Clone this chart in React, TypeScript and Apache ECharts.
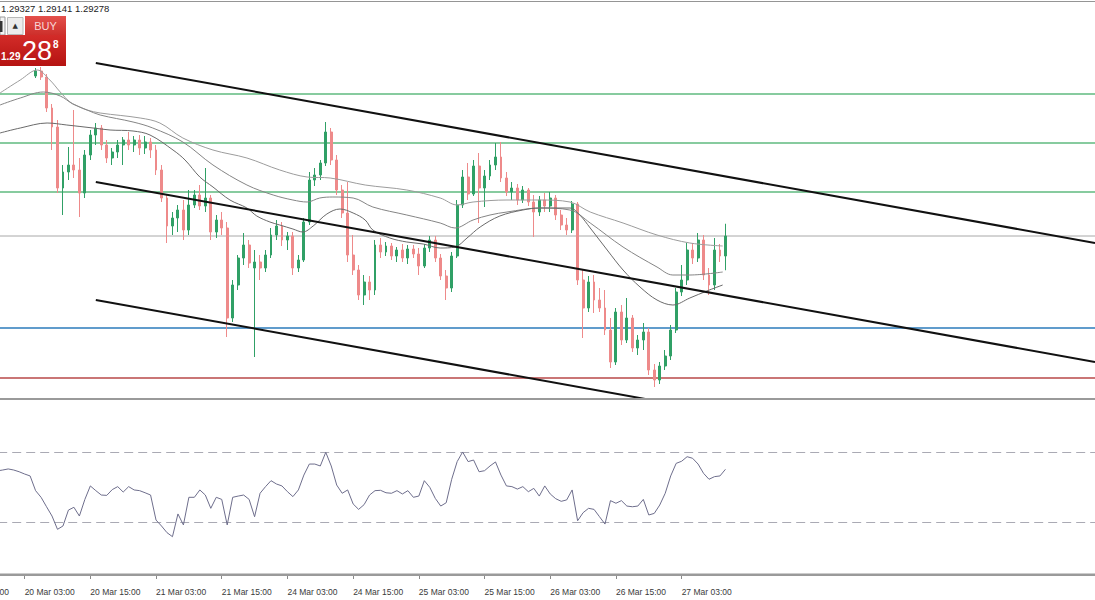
import React, { useEffect, useRef } from "react";
import * as echarts from "echarts";

// ---------- categories (H1 bars, weekend skipped) ----------
const tradingDays = ["19 Mar", "20 Mar", "21 Mar", "24 Mar", "25 Mar", "26 Mar", "27 Mar", "28 Mar", "31 Mar", "1 Apr"];
const firstHour = 15;
const categoryCount = 208;
function buildCategories(): string[] {
  const out: string[] = [];
  tradingDays.forEach((d, di) => {
    for (let h = 0; h < 24; h++) {
      if (di === 0 && h < firstHour) continue;
      out.push(`${d} ${h < 10 ? "0" + h : h}:00`);
    }
  });
  return out.slice(0, categoryCount);
}
const categories = buildCategories();
const candleStartTime = "20 Mar 05:00";
const lastBarTime = "27 Mar 11:00";
const rsiStartTime = "19 Mar 22:00";
const labelHours = ["03:00", "15:00"];

// ---------- OHLC ----------
const opens = [
  1.29918, 1.29938, 1.29914, 1.2979, 1.29714, 1.2947, 1.29534, 1.29562, 1.29542, 1.2945,
  1.29602, 1.29682, 1.2971, 1.29642, 1.2959, 1.29614, 1.29642, 1.29662, 1.29642, 1.29662,
  1.2963, 1.29654, 1.29622, 1.29542, 1.2943, 1.29318, 1.2935, 1.29382, 1.29302, 1.29402,
  1.29442, 1.29398, 1.2943, 1.29294, 1.29342, 1.2931, 1.2895, 1.29082, 1.2919, 1.29242,
  1.2915, 1.29174, 1.2915, 1.29202, 1.29282, 1.29318, 1.29262, 1.29278, 1.2915, 1.29182,
  1.29334, 1.29502, 1.29522, 1.2957, 1.29694, 1.29582, 1.29462, 1.2937, 1.29202, 1.29142,
  1.29042, 1.29094, 1.29062, 1.29242, 1.29214, 1.29238, 1.29198, 1.29222, 1.2919, 1.29226,
  1.29206, 1.29158, 1.2923, 1.29262, 1.2919, 1.29118, 1.2907, 1.29198, 1.29402, 1.29514,
  1.29446, 1.29558, 1.2947, 1.29518, 1.29562, 1.29594, 1.2951, 1.29454, 1.2947, 1.29422,
  1.29462, 1.29414, 1.29374, 1.29422, 1.29398, 1.2943, 1.29362, 1.29322, 1.29302, 1.29406,
  1.29102, 1.2899, 1.29094, 1.29022, 1.2899, 1.28902, 1.28774, 1.28974, 1.28862, 1.2895,
  1.2883, 1.28862, 1.28894, 1.28742, 1.28702, 1.28758, 1.28798, 1.28902, 1.29054, 1.29102,
  1.29222, 1.2919, 1.29262, 1.29122, 1.29082, 1.29222, 1.29198,
];
const highs = [
  1.2995, 1.29954, 1.29926, 1.29806, 1.29742, 1.29562, 1.29634, 1.29782, 1.2959, 1.29622,
  1.29702, 1.2973, 1.29722, 1.29662, 1.2963, 1.29662, 1.29674, 1.29694, 1.29678, 1.29682,
  1.29678, 1.2967, 1.29642, 1.29562, 1.29442, 1.29374, 1.29402, 1.29422, 1.29462, 1.29462,
  1.29482, 1.2955, 1.29442, 1.29362, 1.29374, 1.29334, 1.29102, 1.29202, 1.2929, 1.29262,
  1.29222, 1.29202, 1.29222, 1.2931, 1.29342, 1.29334, 1.29294, 1.29294, 1.29202, 1.2935,
  1.29534, 1.2955, 1.29582, 1.29734, 1.2971, 1.29602, 1.29482, 1.29494, 1.29282, 1.29162,
  1.29122, 1.29118, 1.29262, 1.2927, 1.29254, 1.2925, 1.29234, 1.29246, 1.29242, 1.29242,
  1.2923, 1.29246, 1.29278, 1.29278, 1.29206, 1.29142, 1.29214, 1.29422, 1.29542, 1.2957,
  1.29582, 1.2961, 1.29542, 1.29582, 1.2965, 1.29654, 1.29534, 1.29494, 1.29486, 1.29478,
  1.2947, 1.29442, 1.29438, 1.2945, 1.29454, 1.29442, 1.29382, 1.2935, 1.29418, 1.29414,
  1.29142, 1.29118, 1.29122, 1.2907, 1.29062, 1.2895, 1.2899, 1.29002, 1.2903, 1.28962,
  1.28882, 1.2893, 1.2891, 1.28766, 1.28774, 1.28822, 1.28922, 1.2907, 1.29162, 1.2925,
  1.2925, 1.2929, 1.29282, 1.2915, 1.2927, 1.29246, 1.29327,
];
const lows = [
  1.2991, 1.29902, 1.29774, 1.29622, 1.2945, 1.29362, 1.29502, 1.2951, 1.29354, 1.2943,
  1.29582, 1.29642, 1.29622, 1.2957, 1.29562, 1.2959, 1.29562, 1.29622, 1.29614, 1.29602,
  1.29606, 1.2959, 1.29522, 1.29414, 1.2925, 1.29282, 1.29294, 1.29262, 1.29282, 1.2939,
  1.29382, 1.29374, 1.29262, 1.2927, 1.29282, 1.28874, 1.28934, 1.29062, 1.29162, 1.2915,
  1.28794, 1.29102, 1.29134, 1.2919, 1.29262, 1.29238, 1.29222, 1.29122, 1.29134, 1.29174,
  1.29322, 1.29478, 1.29502, 1.29558, 1.29562, 1.29442, 1.2935, 1.29174, 1.29122, 1.29022,
  1.29002, 1.29022, 1.29042, 1.2919, 1.29198, 1.29182, 1.29174, 1.29174, 1.29166, 1.2919,
  1.29122, 1.2915, 1.29214, 1.29174, 1.29102, 1.29022, 1.29054, 1.2919, 1.2939, 1.29422,
  1.29438, 1.2933, 1.29394, 1.29502, 1.29542, 1.29494, 1.29438, 1.29422, 1.29402, 1.2941,
  1.29398, 1.29274, 1.29358, 1.29374, 1.29374, 1.29342, 1.29302, 1.29282, 1.2929, 1.29082,
  1.2887, 1.28974, 1.2897, 1.28974, 1.28882, 1.2875, 1.28762, 1.28842, 1.2885, 1.28814,
  1.28802, 1.28822, 1.28722, 1.28674, 1.28686, 1.28742, 1.28782, 1.2889, 1.29038, 1.29082,
  1.29166, 1.29174, 1.29102, 1.29042, 1.29062, 1.29174, 1.29141,
];
const closes = [
  1.29938, 1.29914, 1.2979, 1.29714, 1.2947, 1.29534, 1.29562, 1.29542, 1.2945, 1.29602,
  1.29682, 1.2971, 1.29642, 1.2959, 1.29614, 1.29642, 1.29662, 1.29642, 1.29662, 1.2963,
  1.29654, 1.29622, 1.29542, 1.2943, 1.29318, 1.2935, 1.29382, 1.29302, 1.29402, 1.29442,
  1.29398, 1.2943, 1.29294, 1.29342, 1.2931, 1.2895, 1.29082, 1.2919, 1.29242, 1.2917,
  1.29174, 1.2915, 1.29202, 1.29282, 1.29318, 1.29262, 1.29278, 1.2915, 1.29182, 1.29334,
  1.29502, 1.29522, 1.2957, 1.29694, 1.29582, 1.29462, 1.2937, 1.29202, 1.29142, 1.29042,
  1.29094, 1.29062, 1.29242, 1.29214, 1.29238, 1.29198, 1.29222, 1.2919, 1.29226, 1.29206,
  1.29158, 1.2923, 1.29262, 1.2919, 1.29118, 1.2907, 1.29198, 1.29402, 1.29514, 1.29446,
  1.29558, 1.2947, 1.29518, 1.29562, 1.29594, 1.2951, 1.29454, 1.2947, 1.29422, 1.29462,
  1.29414, 1.29374, 1.29422, 1.29398, 1.2943, 1.29362, 1.29322, 1.29302, 1.29406, 1.29102,
  1.2899, 1.29094, 1.29022, 1.2899, 1.28902, 1.28774, 1.28974, 1.28862, 1.2895, 1.2883,
  1.28862, 1.28894, 1.28742, 1.28702, 1.28758, 1.28798, 1.28902, 1.29054, 1.29102, 1.29222,
  1.2919, 1.29262, 1.29122, 1.29082, 1.29222, 1.29198, 1.29278,
];

// ---------- moving averages: [bar index, price] ----------
const maSlow = [
  [7.5, 1.2985], [11.2, 1.29902], [14.3, 1.29942], [16.6, 1.29902], [18.5, 1.29854], [20.3, 1.29814],
  [22.1, 1.29794], [23.4, 1.29782], [25.8, 1.2977], [33.1, 1.2975], [36.7, 1.2973], [40.9, 1.2967],
  [46.4, 1.29622], [52.6, 1.2959], [58.6, 1.29542], [63.6, 1.29514], [67.8, 1.2951], [74.2, 1.29482],
  [81.8, 1.29462], [87.9, 1.2943], [91.0, 1.29402], [93.9, 1.29414], [100.1, 1.29422], [106.1, 1.29422],
  [111.6, 1.29414], [115.3, 1.29374], [121.3, 1.2933], [127.5, 1.29282], [133.5, 1.2925], [139.5, 1.29238],
];
const maMid = [
  [7.5, 1.29802], [11.2, 1.2983], [15.4, 1.29854], [18.5, 1.29838], [20.8, 1.29806], [23.4, 1.29782],
  [25.8, 1.29762], [31.8, 1.29734], [35.4, 1.2971], [40.9, 1.29654], [46.4, 1.29562], [52.6, 1.29482],
  [57.4, 1.29442], [61.0, 1.29422], [63.6, 1.29414], [65.9, 1.2943], [68.3, 1.29434], [72.0, 1.2943],
  [75.6, 1.29394], [81.8, 1.29362], [87.9, 1.2933], [90.6, 1.2931], [93.9, 1.29342], [97.0, 1.29362],
  [100.1, 1.29374], [106.1, 1.2939], [111.6, 1.29382], [115.3, 1.2933], [121.3, 1.29234], [127.5, 1.29154],
  [130.4, 1.29122], [133.5, 1.29122], [139.5, 1.29134],
];
const maFast = [
  [7.5, 1.2969], [11.2, 1.2971], [16.1, 1.2973], [19.7, 1.29722], [24.5, 1.2971], [27.6, 1.29702],
  [31.8, 1.29698], [34.9, 1.29682], [39.1, 1.29622], [41.3, 1.29582], [44.0, 1.29514], [46.4, 1.29474],
  [49.5, 1.29422], [52.6, 1.2939], [54.4, 1.29358], [56.8, 1.29334], [58.6, 1.29322], [61.0, 1.29306],
  [62.8, 1.29294], [64.7, 1.29318], [67.2, 1.29366], [69.6, 1.29386], [72.0, 1.2937], [74.2, 1.29342],
  [75.6, 1.29302], [78.7, 1.2927], [81.8, 1.29254], [84.8, 1.29246], [87.9, 1.2923], [90.6, 1.29234],
  [92.8, 1.2927], [95.2, 1.29314], [98.8, 1.29358], [103.0, 1.29382], [106.1, 1.2939], [111.6, 1.2939],
  [113.4, 1.29362], [115.3, 1.2931], [118.4, 1.29222], [121.3, 1.29142], [124.4, 1.29074], [127.5, 1.29022],
  [130.4, 1.29002], [133.5, 1.2903], [136.6, 1.29058], [139.5, 1.29082],
];

// ---------- channel trend lines ----------
const channelTop = [[25, 1.2997], [207.5, 1.2925]];
const channelMid = [[25, 1.29494], [207.5, 1.28774]];
const channelLow = [[25, 1.29022], [207.5, 1.28302]];

// ---------- horizontal levels ----------
const greenLevels = [1.29846, 1.2965, 1.29454];
const bidLevel = 1.29278;
const blueLevel = 1.2891;
const redLevel = 1.2871;
const priceMin = 1.2863;
const priceMax = 1.30214;

// ---------- RSI ----------
const rsiValues = [
  59.5,
  60.0, 60.6, 60.0, 59.0, 57.7, 56.6, 48.2, 44.4, 39.0, 33.7,
  26.1, 28.0, 37.1, 38.7, 33.7, 43.2, 50.9, 48.2, 45.7, 45.5,
  48.8, 50.5, 47.4, 50.5, 48.6, 48.2, 47.0, 45.7, 31.4, 28.0,
  24.2, 21.9, 34.9, 28.6, 44.4, 44.4, 48.6, 45.7, 38.1, 44.4,
  43.2, 28.6, 44.4, 45.1, 45.7, 43.2, 33.3, 46.7, 50.5, 53.9,
  52.0, 50.9, 47.6, 44.8, 48.6, 57.1, 63.4, 63.4, 62.3, 70.1,
  62.3, 51.4, 46.7, 48.6, 40.6, 37.5, 40.2, 45.7, 48.2, 48.4,
  47.0, 46.7, 48.2, 46.3, 48.2, 44.4, 45.1, 53.9, 50.1, 43.8,
  39.4, 41.3, 54.7, 64.8, 70.3, 64.8, 65.7, 59.0, 59.6, 62.3,
  64.6, 57.1, 50.9, 50.5, 49.1, 50.5, 47.6, 49.5, 45.1, 50.9,
  46.3, 43.6, 42.1, 42.9, 48.6, 31.0, 35.6, 38.1, 37.5, 33.3,
  29.1, 42.5, 41.0, 42.5, 39.4, 39.0, 39.4, 43.2, 34.3, 35.2,
  40.0, 46.7, 56.6, 63.8, 65.0, 67.6, 66.7, 63.4, 58.1, 54.7,
  56.2, 56.6, 60.4,
];
const rsiLevels = [70, 30];

// ---------- header / trade panel texts ----------
const headerQuote = ["1.29327", "1.29141", "1.29278"];
const askPrefix = "1.29";
const askBig = "28";
const askPip = "8";

const W = 1095;
const H = 600;
const BAR = 5.475;

export default function App() {
  const ref = useRef<HTMLDivElement>(null);
  useEffect(() => {
    document.body.style.margin = "0";
    if (!ref.current) return;
    const chart = echarts.init(ref.current, null, { renderer: "svg" });

    const candleStart = categories.indexOf(candleStartTime);
    const lastIndex = categories.indexOf(lastBarTime);
    const rsiStart = categories.indexOf(rsiStartTime);
    const candleRows = opens.map((o, i) => [candleStart + i, o, closes[i], lows[i], highs[i]]);
    const rsiData: any[] = categories.map(() => "-");
    rsiValues.forEach((v, i) => (rsiData[rsiStart + i] = v));
    const xMin = -0.5;
    const xMax = categories.length - 0.5;

    const labelFilter = (index: number, value: string) =>
      index <= lastIndex && labelHours.some((h) => value.endsWith(h));

    const gridWidth = categories.length * BAR;
    const gridLeft = W - gridWidth;
    const bull = "#30a066";
    const bear = "#ee8a8a";
    const font = "Liberation Sans";

    const flatLine = (v: number, color: string, width: number, xAxisIndex: number, yAxisIndex: number, dash?: number[]) => ({
      type: "line",
      xAxisIndex,
      yAxisIndex,
      data: [[xMin, v], [xMax, v]],
      showSymbol: false,
      silent: true,
      z: 1,
      lineStyle: { color, width, type: dash || "solid" },
    });

    const option: any = {
      animation: false,
      backgroundColor: "#ffffff",
      grid: [
        { left: gridLeft, top: 2, width: gridWidth, height: 396, outerBoundsMode: "none", containLabel: false },
        { left: gridLeft, top: 400, width: gridWidth, height: 175, outerBoundsMode: "none", containLabel: false },
      ],
      xAxis: [
        { type: "category", gridIndex: 0, data: categories, boundaryGap: true, show: false },
        { type: "value", gridIndex: 0, min: xMin, max: xMax, show: false },
        {
          type: "category",
          gridIndex: 1,
          data: categories,
          boundaryGap: true,
          position: "bottom",
          offset: 8,
          axisLine: { show: true, lineStyle: { color: "#9a9a9a", width: 1 } },
          axisTick: { show: true, alignWithLabel: true, interval: labelFilter, length: 4, lineStyle: { color: "#8a8a8a" } },
          axisLabel: { interval: labelFilter, align: "left", margin: 4, fontSize: 8.5, fontFamily: font, color: "#3a3a3a", hideOverlap: false },
          splitLine: { show: false },
        },
        { type: "value", gridIndex: 1, min: xMin, max: xMax, show: false },
      ],
      yAxis: [
        { type: "value", gridIndex: 0, min: priceMin, max: priceMax, show: false, splitLine: { show: false } },
        { type: "value", gridIndex: 1, min: 0, max: 100, show: false, splitLine: { show: false } },
      ],
      series: [
        ...greenLevels.map((v) => flatLine(v, "#5fba7f", 1.3, 1, 0)),
        flatLine(bidLevel, "#a8a8a8", 1, 1, 0),
        flatLine(blueLevel, "#2b7bbb", 1.3, 1, 0),
        flatLine(redLevel, "#b84848", 1.3, 1, 0),
        ...rsiLevels.map((v) => flatLine(v, "#aaaab4", 1, 3, 1, [9, 5])),
        {
          type: "candlestick",
          xAxisIndex: 0,
          yAxisIndex: 0,
          data: candleRows,
          encode: { x: 0, y: [1, 2, 3, 4] },
          barWidth: 2.4,
          silent: true,
          z: 3,
          itemStyle: { color: bull, color0: bear, borderColor: bull, borderColor0: bear, borderWidth: 1 },
        },
        ...[
          { data: maSlow, color: "#9c9c9c" },
          { data: maMid, color: "#858585" },
          { data: maFast, color: "#6a6a6a" },
        ].map((m) => ({
          type: "line",
          xAxisIndex: 1,
          yAxisIndex: 0,
          data: m.data,
          smooth: 0.35,
          showSymbol: false,
          silent: true,
          z: 4,
          lineStyle: { color: m.color, width: 1 },
        })),
        ...[channelTop, channelMid, channelLow].map((c) => ({
          type: "line",
          xAxisIndex: 1,
          yAxisIndex: 0,
          data: c,
          showSymbol: false,
          silent: true,
          clip: true,
          z: 5,
          lineStyle: { color: "#111111", width: 2 },
        })),
        {
          type: "line",
          xAxisIndex: 2,
          yAxisIndex: 1,
          data: rsiData,
          showSymbol: false,
          silent: true,
          z: 4,
          lineStyle: { color: "#6e6e8c", width: 1 },
        },
      ],
      graphic: [
        { type: "rect", z: 50, shape: { x: 0, y: 1, width: W, height: 1 }, style: { fill: "#959595" } },
        { type: "rect", z: 50, shape: { x: 0, y: 398, width: W, height: 2 }, style: { fill: "#9a9a9a" } },
        { type: "rect", z: 50, shape: { x: 0, y: 573.5, width: W, height: 2.5 }, style: { fill: "#9a9a9a" } },
        {
          type: "text",
          z: 60,
          x: 1,
          y: 8,
          style: { text: headerQuote.join(" "), fontSize: 9.5, fontFamily: font, fill: "#222", verticalAlign: "middle" },
        },
        {
          type: "group",
          z: 100,
          children: [
            { type: "rect", shape: { x: 0, y: 17, width: 5, height: 18 }, style: { fill: "#f4f4f4", stroke: "#9a9a9a", lineWidth: 1 } },
            { type: "rect", shape: { x: 0, y: 21, width: 2.5, height: 11 }, style: { fill: "#333" } },
            { type: "rect", shape: { x: 7.5, y: 17.5, width: 15.5, height: 17 }, style: { fill: "#ececec", stroke: "#b8b8b8", lineWidth: 1 } },
            { type: "text", x: 15.3, y: 26, style: { text: "▲", fontSize: 7, fill: "#333", align: "center", verticalAlign: "middle", fontFamily: "DejaVu Sans" } },
            {
              type: "rect",
              shape: { x: 0, y: 35, width: 66, height: 31 },
              style: {
                fill: new echarts.graphic.LinearGradient(0, 0, 0, 1, [
                  { offset: 0, color: "#d32c29" },
                  { offset: 1, color: "#b51311" },
                ]),
              },
            },
            {
              type: "rect",
              shape: { x: 25, y: 16, width: 41, height: 19 },
              style: {
                fill: new echarts.graphic.LinearGradient(0, 0, 0, 1, [
                  { offset: 0, color: "#e4504b" },
                  { offset: 1, color: "#cd2f2b" },
                ]),
              },
            },
            { type: "text", x: 45.5, y: 26, style: { text: "BUY", fontSize: 11, fill: "#f9d6d6", align: "center", verticalAlign: "middle", fontFamily: font } },
            { type: "text", x: 1, y: 56, style: { text: askPrefix, fontSize: 10, fontWeight: "bold", fill: "#ffffff", align: "left", verticalAlign: "middle", fontFamily: font } },
            { type: "text", x: 22, y: 51, style: { text: askBig, fontSize: 27, fill: "#ffffff", align: "left", verticalAlign: "middle", fontFamily: font } },
            { type: "text", x: 53, y: 44, style: { text: askPip, fontSize: 10, fontWeight: "bold", fill: "#ffffff", align: "left", verticalAlign: "middle", fontFamily: font } },
          ],
        },
      ],
    };
    chart.setOption(option);
    return () => chart.dispose();
  }, []);
  return <div ref={ref} style={{ width: W, height: H, overflow: "hidden", background: "#fff" }} />;
}
